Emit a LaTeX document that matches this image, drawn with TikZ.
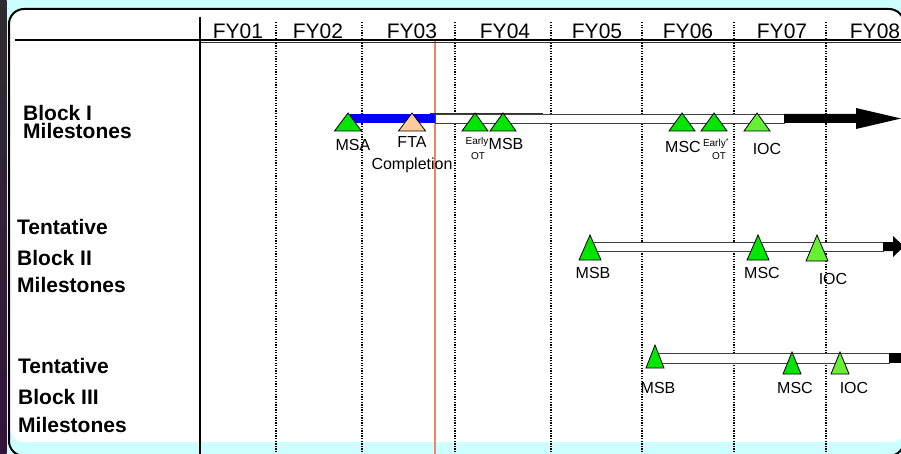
\documentclass[tikz,border=0pt]{standalone}
\usepackage{fontspec}
\setmainfont{Liberation Sans}
\definecolor{bgcyan}{RGB}{204,255,255}
\definecolor{msgreen}{RGB}{0,230,0}
\definecolor{iocgreen}{RGB}{102,240,51}
\definecolor{ftapeach}{RGB}{255,204,153}
\definecolor{todayred}{RGB}{240,130,110}
\definecolor{stripgray}{RGB}{45,45,48}
\definecolor{strippurple}{RGB}{50,20,60}
\newcommand\mtri[5]{\filldraw[mstri, fill=#5] (#1-#4,#3) -- (#1,#2) -- (#1+#4,#3) -- cycle;}
\begin{document}
\begin{tikzpicture}[x=1pt,y=-1pt,
  lab/.style={font=\fontsize{16}{16}\selectfont, inner sep=0pt, anchor=base},
  tinylab/.style={font=\fontsize{10}{10}\selectfont, inner sep=0pt, anchor=base},
  fylab/.style={font=\fontsize{21}{21}\selectfont, inner sep=0pt, anchor=base},
  blklab/.style={font=\bfseries\fontsize{21}{21}\selectfont, inner sep=0pt, anchor=base west},
  mstri/.style={draw=black, line width=0.8pt, line join=miter},
  yearline/.style={line width=1.3pt, dash pattern=on 1.3pt off 1.3pt},
  barline/.style={draw=black!75, line width=0.9pt, fill=white}]
\useasboundingbox (0,0) rectangle (901,454);
% background
\fill[bgcyan] (0,0) rectangle (901,454);
\shade[top color=stripgray, bottom color=strippurple] (0,0) rectangle (6.5,454);
% panel
\fill[white, rounded corners=14pt] (10,10) rectangle (905,442);
\draw[line width=2pt, rounded corners=15pt] (9,9) rectangle (904,456);
% year separators
\foreach \xx in {276,362,455,551,642,734,826}
  \draw[yearline] (\xx,22) -- (\xx,454);
\draw[todayred, line width=1.2pt] (435,40) -- (435,454);
% header lines
\draw[line width=1.6pt] (15,40) -- (901,40);
\draw[line width=1pt, black!80] (200,42.8) -- (901,42.8);
\draw[line width=1.6pt] (200,17) -- (200,454);
% year labels
\node[fylab] (fy01) at (238,38.5) {FY01};
\node[fylab] (fy02) at (318,38.5) {FY02};
\node[fylab] (fy03) at (412,38.5) {FY03};
\node[fylab] (fy04) at (505,38.5) {FY04};
\node[fylab] (fy05) at (597,38.5) {FY05};
\node[fylab] (fy06) at (688,38.5) {FY06};
\node[fylab] (fy07) at (782,38.5) {FY07};
\node[fylab] (fy08) at (875,38.5) {FY08};
% row labels
\node[blklab] (b1a) at (23,121) {Block I};
\node[blklab] (b1b) at (23,139) {Milestones};
\node[blklab] (b2a) at (17,234) {Tentative};
\node[blklab] (b2b) at (17,265) {Block II};
\node[blklab] (b2c) at (17,292) {Milestones};
\node[blklab] (b3a) at (18,373) {Tentative};
\node[blklab] (b3b) at (18,404) {Block III};
\node[blklab] (b3c) at (18,432) {Milestones};
% Block I bar
\fill[blue] (350,114) rectangle (435,123);
\draw[barline] (435,114) rectangle (784,123);
\draw[black!80, line width=0.9pt] (430,113) -- (543,113);
\fill[black] (784,114) -- (856,114) -- (856,108) -- (901,118.5) -- (856,129) -- (856,123) -- (784,123) -- cycle;
% Block I milestones
\mtri{348}{113}{131}{13.5}{msgreen}
\mtri{412}{113}{131}{13.5}{ftapeach}
\mtri{475}{113}{131}{13}{msgreen}
\mtri{503}{113}{131}{13}{msgreen}
\mtri{682}{113}{131}{13}{msgreen}
\mtri{714}{113}{131}{13}{msgreen}
\mtri{757}{113}{131}{13}{iocgreen}
\node[lab] (msa1) at (353,151) {MSA};
\node[lab] (fta1) at (412,148) {FTA};
\node[lab] (cmp1) at (412,170) {Completion};
\node[tinylab] (eot1a) at (477,145) {Early};
\node[tinylab] (eot1b) at (478,160) {OT};
\node[lab] (msb1) at (506,150) {MSB};
\node[lab] (msc1) at (683,153) {MSC};
\node[tinylab] (eot2a) at (716,147) {Early\textsuperscript{*}};
\node[tinylab] (eot2b) at (719,160) {OT};
\node[lab] (ioc1) at (767,155) {IOC};
% Block II bar
\draw[barline] (590,242) rectangle (883,251);
\fill[black] (883,242) -- (893,242) -- (893,236) -- (904,246.5) -- (893,257) -- (893,251) -- (883,251) -- cycle;
\mtri{590}{235}{260}{11}{msgreen}
\mtri{758}{235}{260}{11}{msgreen}
\mtri{817}{235}{261}{11}{iocgreen}
\node[lab] (msb2) at (593,278) {MSB};
\node[lab] (msc2) at (762,278) {MSC};
\node[lab] (ioc2) at (833,284) {IOC};
% Block III bar
\draw[barline] (655,353) rectangle (889,363);
\fill[black] (889,353) rectangle (901,363);
\mtri{655}{345}{368}{9}{msgreen}
\mtri{792}{352}{374}{9}{msgreen}
\mtri{840}{352}{374}{9}{iocgreen}
\node[lab] (msb3) at (658,393) {MSB};
\node[lab] (msc3) at (795,393) {MSC};
\node[lab] (ioc3) at (854,393) {IOC};
\end{tikzpicture}
\end{document}
